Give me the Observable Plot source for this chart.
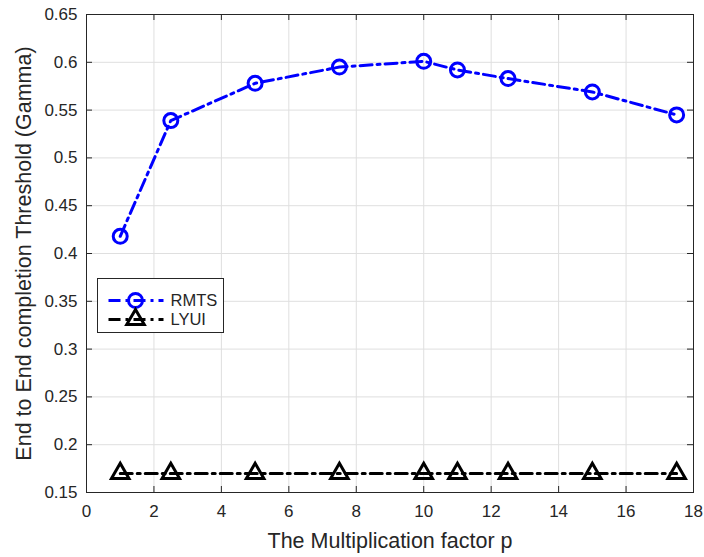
<!DOCTYPE html>
<html>
<head>
<meta charset="utf-8">
<script src="https://cdn.jsdelivr.net/npm/d3@7"></script>
<script src="https://cdn.jsdelivr.net/npm/@observablehq/plot@0.6"></script>
<style>
  html, body { margin: 0; padding: 0; background: #fff; }
  #wrap { position: relative; width: 704px; height: 557px; }
  #legend { position: absolute; left: 0; top: 0; }
</style>
</head>
<body>
<div id="wrap"></div>
<script>
// ---- data ----
const pValues = [1, 2.5, 5, 7.5, 10, 11, 12.5, 15, 17.5];
const rmtsValues = [0.418, 0.539, 0.578, 0.595, 0.601, 0.592, 0.583, 0.569, 0.545];
const lyuiValues = [0.17, 0.17, 0.17, 0.17, 0.17, 0.17, 0.17, 0.17, 0.17];
const seriesNames = ["RMTS", "LYUI"];
const xTicks = [0, 2, 4, 6, 8, 10, 12, 14, 16, 18];
const yTicks = [0.15, 0.2, 0.25, 0.3, 0.35, 0.4, 0.45, 0.5, 0.55, 0.6, 0.65];
const yTickLabels = ["0.15", "0.2", "0.25", "0.3", "0.35", "0.4", "0.45", "0.5", "0.55", "0.6", "0.65"];
const xLabel = "The Multiplication factor p";
const yLabel = "End to End completion Threshold (Gamma)";

// ---- layout ----
const W = 704, H = 557;
const mL = 86, mR = 11, mT = 14, mB = 65;
const fW = W - mL - mR, fH = H - mT - mB;
const tickLen = 6;
const ink = "#262626";
const gridColor = "#dfdfdf";
const dash = "12,5,3,5";

const rmts = pValues.map((p, i) => ({p, v: rmtsValues[i]}));
const lyui = pValues.map((p, i) => ({p, v: lyuiValues[i]}));

const chart = Plot.plot({
  width: W, height: H,
  marginLeft: mL, marginRight: mR, marginTop: mT, marginBottom: mB,
  style: {fontFamily: "'Liberation Sans', Arial, Helvetica, sans-serif", fontSize: "17px", color: ink, background: "white"},
  x: {domain: [0, 18], ticks: xTicks, tickSize: 0, tickPadding: 12, label: null},
  y: {domain: [0.15, 0.65], ticks: yTicks, tickSize: 0, tickPadding: 9, label: null,
      tickFormat: d => yTickLabels[yTicks.findIndex(t => Math.abs(t - d) < 1e-9)]},
  marks: [
    Plot.ruleX(xTicks, {x: d => d, stroke: gridColor, strokeWidth: 1}),
    Plot.ruleY(yTicks, {y: d => d, stroke: gridColor, strokeWidth: 1}),
    // inward ticks on all four sides
    Plot.ruleX(xTicks, {x: d => d, stroke: ink, insetTop: fH - tickLen}),
    Plot.ruleX(xTicks, {x: d => d, stroke: ink, insetBottom: fH - tickLen}),
    Plot.ruleY(yTicks, {y: d => d, stroke: ink, insetRight: fW - tickLen}),
    Plot.ruleY(yTicks, {y: d => d, stroke: ink, insetLeft: fW - tickLen}),
    Plot.frame({stroke: ink, strokeWidth: 1}),
    Plot.line(lyui, {x: "p", y: "v", stroke: "black", strokeWidth: 3, strokeDasharray: dash}),
    Plot.dot(lyui, {x: "p", y: "v", symbol: "triangle", r: 6.5, stroke: "black", strokeWidth: 3, fill: "none"}),
    Plot.line(rmts, {x: "p", y: "v", stroke: "#0000ff", strokeWidth: 3, strokeDasharray: dash}),
    Plot.dot(rmts, {x: "p", y: "v", symbol: "circle", r: 7, stroke: "#0000ff", strokeWidth: 3, fill: "none"}),
    Plot.text([xLabel], {frameAnchor: "bottom", dy: 49, text: d => d, fontSize: 21.5, fill: ink,
      textAnchor: "middle", lineAnchor: "middle"}),
    Plot.text([yLabel], {frameAnchor: "left", dx: -62, rotate: -90, text: d => d, fontSize: 21.5, fill: ink,
      textAnchor: "middle", lineAnchor: "middle"})
  ]
});
document.getElementById("wrap").appendChild(chart);

// ---- legend overlay ----
const lg = d3.select("#wrap").append("svg").attr("id", "legend")
  .attr("width", W).attr("height", H).style("pointer-events", "none");
const box = {x: 97.5, y: 278.5, w: 126, h: 54};
lg.append("rect").attr("x", box.x).attr("y", box.y).attr("width", box.w).attr("height", box.h)
  .attr("fill", "white").attr("stroke", ink).attr("stroke-width", 1);
const rows = [
  {name: seriesNames[0], color: "#0000ff", symbol: d3.symbolCircle, cy: box.y + 22},
  {name: seriesNames[1], color: "black", symbol: d3.symbolTriangle, cy: box.y + 41}
];
rows.forEach(r => {
  lg.append("line").attr("x1", box.x + 11).attr("x2", box.x + 66).attr("y1", r.cy).attr("y2", r.cy)
    .attr("stroke", r.color).attr("stroke-width", 3).attr("stroke-dasharray", dash);
  lg.append("path").attr("transform", `translate(${box.x + 38},${r.cy})`)
    .attr("d", d3.symbol(r.symbol, r.symbol === d3.symbolCircle ? Math.PI * 49 : Math.PI * 6.5 * 6.5)())
    .attr("fill", "none").attr("stroke", r.color).attr("stroke-width", 3);
  lg.append("text").attr("x", box.x + 73).attr("y", r.cy).attr("dy", "0.35em")
    .attr("font-family", "'Liberation Sans', Arial, sans-serif").attr("font-size", 16.5)
    .attr("fill", ink).text(r.name);
});
</script>
</body>
</html>
